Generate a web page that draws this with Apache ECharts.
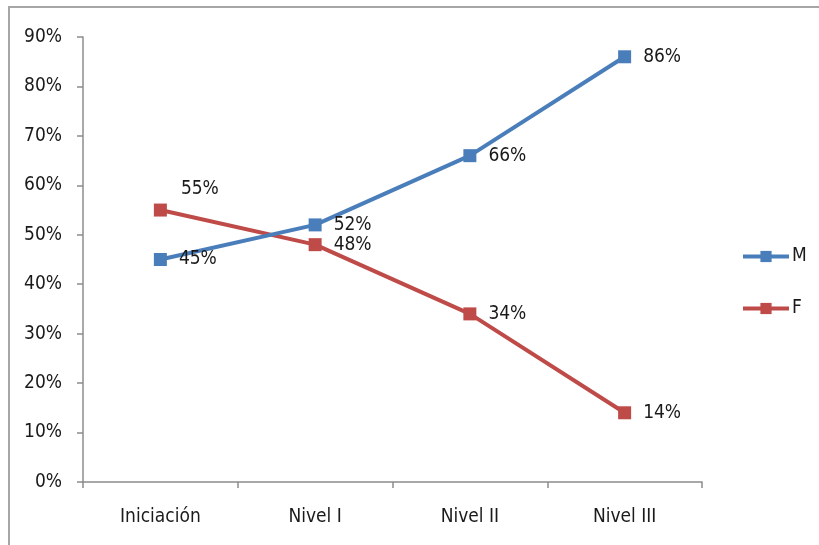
<!DOCTYPE html>
<html>
<head>
<meta charset="utf-8">
<style>
  html, body { margin: 0; padding: 0; background: #fff; }
  #chart { width: 819px; height: 545px; }
</style>
<script src="https://cdn.jsdelivr.net/npm/echarts@6/dist/echarts.min.js"></script>
</head>
<body>
<div id="chart"></div>
<script>
// Share of participants by level, split by sex
const categories = ['Iniciación', 'Nivel I', 'Nivel II', 'Nivel III'];
const valuesM = [45, 52, 66, 86];
const valuesF = [55, 48, 34, 14];
const yTicks = { min: 0, max: 90, interval: 10 };

const FONT = '"Liberation Sans Narrow", "DejaVu Sans Condensed", "Liberation Sans", sans-serif';
const FS = 19;
const TEXT = '#1a1a1a';
const BLUE = '#4a7ebb';
const RED = '#be4b48';

const chart = echarts.init(document.getElementById('chart'), null, { renderer: 'canvas' });

function seriesData(values, overrides) {
  return values.map((v, i) => (overrides && overrides[i]) ? Object.assign({ value: v }, overrides[i]) : v);
}

function labelStyle() {
  return {
    show: true, position: 'right', distance: 12,
    formatter: '{c}%', color: TEXT, fontSize: FS, fontFamily: FONT
  };
}

chart.setOption({
  animation: false,
  backgroundColor: '#fff',
  textStyle: { fontFamily: FONT },
  graphic: [{
    type: 'rect',
    shape: { x: 9, y: 7, width: 900, height: 700 },
    style: { fill: 'none', stroke: '#a6a6a6', lineWidth: 2 },
    silent: true
  }],
  grid: { left: 83, right: 117, top: 37, bottom: 63 },
  legend: {
    orient: 'vertical',
    left: 736,
    top: 242,
    itemWidth: 46,
    itemHeight: 14,
    itemGap: 33,
    lineStyle: { width: 4 },
    textStyle: { color: TEXT, fontSize: FS, fontFamily: FONT, padding: [0, 0, 0, -2] },
    data: ['M', 'F']
  },
  xAxis: {
    type: 'category',
    data: categories,
    boundaryGap: true,
    axisLine: { lineStyle: { color: '#8c8c8c', width: 1.5 } },
    axisTick: { show: true, length: 6, alignWithLabel: false, lineStyle: { color: '#8c8c8c', width: 1.5 } },
    axisLabel: { color: TEXT, fontSize: FS, margin: 26, fontFamily: FONT }
  },
  yAxis: {
    type: 'value',
    min: yTicks.min,
    max: yTicks.max,
    interval: yTicks.interval,
    splitLine: { show: false },
    axisLine: { show: true, lineStyle: { color: '#8c8c8c', width: 1.5 } },
    axisTick: { show: true, length: 6, lineStyle: { color: '#8c8c8c', width: 1.5 } },
    axisLabel: { color: TEXT, fontSize: FS, margin: 21, formatter: '{value}%', fontFamily: FONT }
  },
  series: [
    {
      name: 'M',
      type: 'line',
      data: seriesData(valuesM),
      symbol: 'rect',
      symbolSize: 13,
      color: BLUE,
      lineStyle: { width: 4, color: BLUE },
      itemStyle: { color: BLUE },
      label: labelStyle(),
      z: 3
    },
    {
      name: 'F',
      type: 'line',
      data: seriesData(valuesF, { 0: { label: { offset: [2, -21] } } }),
      symbol: 'rect',
      symbolSize: 13,
      color: RED,
      lineStyle: { width: 4, color: RED },
      itemStyle: { color: RED },
      label: labelStyle(),
      z: 2
    }
  ]
});
</script>
</body>
</html>
